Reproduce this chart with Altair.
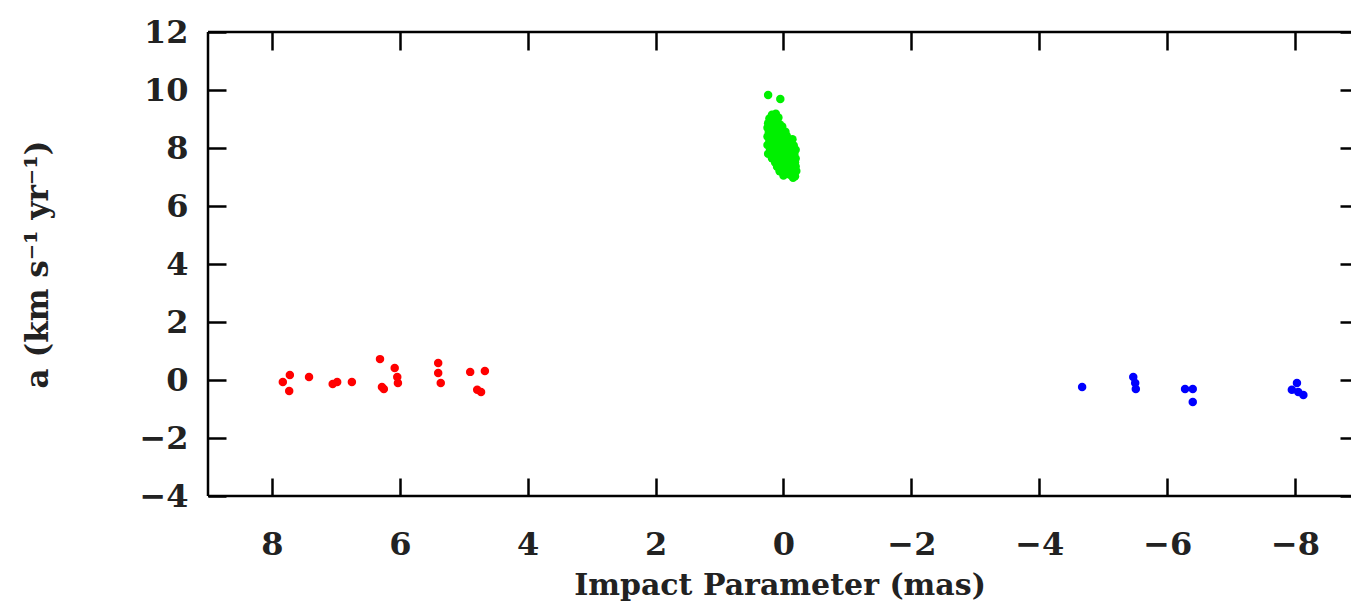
import altair as alt
import pandas as pd

# ---- data ----
red_x = [7.83, 7.72, 7.73, 7.42, 7.05, 6.98, 6.75, 6.31, 6.28, 6.25, 6.08, 6.04, 6.03,
         5.40, 5.40, 5.36, 4.90, 4.67, 4.79, 4.73]
red_y = [-0.07, 0.17, -0.38, 0.10, -0.14, -0.07, -0.07, 0.72, -0.24, -0.31, 0.41, 0.10, -0.10,
         0.59, 0.24, -0.10, 0.28, 0.31, -0.34, -0.41]

green_x = [0.24, 0.05,
           0.18, 0.12,
           0.22, 0.15, 0.08,
           0.24, 0.16, 0.06,
           0.25, 0.18, 0.10, 0.02,
           0.23, 0.14, 0.05, -0.03,
           0.25, 0.16, 0.07, -0.05,
           0.22, 0.12, 0.02, -0.08, -0.14,
           0.25, 0.15, 0.05, -0.05, -0.16,
           0.21, 0.10, 0.00, -0.10, -0.19,
           0.24, 0.14, 0.04, -0.06, -0.17,
           0.18, 0.08, -0.02, -0.12, -0.19,
           0.13, 0.03, -0.08, -0.18,
           0.10, 0.00, -0.10, -0.19,
           0.06, -0.04, -0.14, -0.20,
           0.00, -0.10, -0.18,
           -0.15]
green_y = [9.83, 9.69,
           9.15, 9.18,
           9.02, 8.98, 9.05,
           8.85, 8.88, 8.82,
           8.70, 8.72, 8.68, 8.74,
           8.55, 8.58, 8.52, 8.56,
           8.40, 8.43, 8.38, 8.42,
           8.25, 8.28, 8.22, 8.26, 8.30,
           8.10, 8.12, 8.08, 8.13, 8.09,
           7.95, 7.98, 7.92, 7.96, 7.94,
           7.80, 7.83, 7.78, 7.82, 7.79,
           7.65, 7.68, 7.62, 7.66, 7.64,
           7.50, 7.52, 7.48, 7.51,
           7.35, 7.38, 7.33, 7.36,
           7.20, 7.22, 7.18, 7.21,
           7.05, 7.08, 7.03,
           6.97]

blue_x = [-4.67, -5.47, -5.50, -5.51, -6.28, -6.40, -6.40, -8.03, -7.95, -8.05, -8.13]
blue_y = [-0.24, 0.10, -0.10, -0.31, -0.31, -0.31, -0.76, -0.10, -0.34, -0.41, -0.52]

x_ticks = [8, 6, 4, 2, 0, -2, -4, -6, -8]
y_ticks = [-4, -2, 0, 2, 4, 6, 8, 10, 12]
x_domain = [9, -8.875]
y_domain = [-4, 12]

groups = ["red", "green", "blue"]
colors = ["#ff0000", "#00f000", "#0000ff"]

rows = []
for g, xs, ys in zip(groups, [red_x, green_x, blue_x], [red_y, green_y, blue_y]):
    for xv, yv in zip(xs, ys):
        rows.append({"b": xv, "a": yv, "g": g})
df = pd.DataFrame(rows)

frame = pd.DataFrame({
    "x": [x_domain[0], x_domain[0], x_domain[0]],
    "x2": [x_domain[0], x_domain[1], x_domain[1]],
    "y": [y_domain[0], y_domain[1], y_domain[0]],
    "y2": [y_domain[1], y_domain[1], y_domain[0]],
})

FONT = "DejaVu Serif"
TXT = "#222222"
xscale = alt.Scale(domain=x_domain, nice=False, zero=False)
yscale = alt.Scale(domain=y_domain, nice=False, zero=False)

points = alt.Chart(df).mark_circle(size=72, opacity=1).encode(
    x=alt.X("b:Q", scale=xscale,
            axis=alt.Axis(values=x_ticks, orient="bottom", offset=-18, tickSize=18, tickWidth=2.5,
                          tickColor="black", domain=False, grid=False, labelFont=FONT,
                          labelFontSize=32, labelFontWeight="bold", labelColor=TXT,
                          labelPadding=33,
                          title="Impact Parameter (mas)", titleFont=FONT, titleFontSize=30,
                          titleFontWeight="bold", titleColor=TXT, titlePadding=10)),
    y=alt.Y("a:Q", scale=yscale,
            axis=alt.Axis(values=y_ticks, orient="left", offset=-18, tickSize=18, tickWidth=2.5,
                          tickColor="black", domain=False, grid=False, labelFont=FONT,
                          labelFontSize=32, labelFontWeight="bold", labelColor=TXT,
                          labelPadding=20,
                          title="a (km s⁻¹ yr⁻¹)", titleFont=FONT, titleFontSize=31,
                          titleFontWeight="bold", titleColor=TXT, titlePadding=84)),
    color=alt.Color("g:N", scale=alt.Scale(domain=groups, range=colors), legend=None),
)

ticks_tr = alt.Chart(frame).mark_rule(strokeWidth=2.5, color="black").encode(
    x=alt.X("x:Q", scale=xscale,
            axis=alt.Axis(values=x_ticks, orient="top", offset=-18, tickSize=18, tickWidth=2.5,
                          tickColor="black", domain=False, grid=False, labels=False, title=None)),
    x2="x2:Q",
    y=alt.Y("y:Q", scale=yscale,
            axis=alt.Axis(values=y_ticks, orient="right", offset=-11, tickSize=11, tickWidth=2.5,
                          tickColor="black", domain=False, grid=False, labels=False, title=None)),
    y2="y2:Q",
)

chart = alt.layer(points, ticks_tr).resolve_axis(x="independent", y="independent").properties(
    width=1143, height=464,
    autosize=alt.AutoSizeParams(type="none"),
    padding={"left": 208, "top": 32, "right": 0, "bottom": 108},
    background="white",
).configure_view(stroke=None)

chart.save("out.html", embed_options={"renderer": "svg", "actions": False})
